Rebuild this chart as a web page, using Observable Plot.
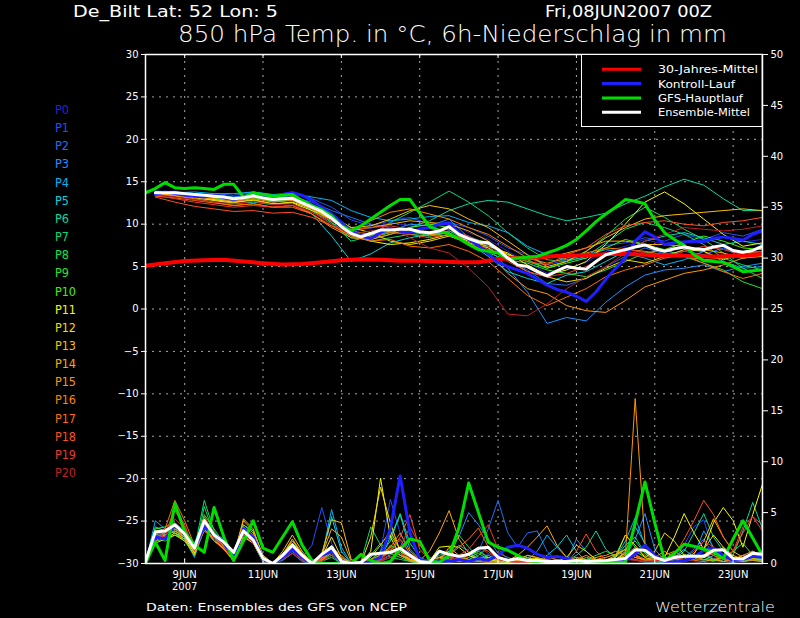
<!DOCTYPE html>
<html><head><meta charset="utf-8">
<script src="https://cdn.jsdelivr.net/npm/d3@7"></script>
<script src="https://cdn.jsdelivr.net/npm/@observablehq/plot@0.6"></script>
<style>
html,body{margin:0;padding:0;background:#000;}
#wrap{position:relative;width:800px;height:618px;overflow:hidden;background:#000;}
#wrap svg{position:absolute;left:0;top:0;}
</style></head><body><div id="wrap"></div>
<script>
// ---------- tick labels / categories ----------
const xTickHours = [24, 72, 120, 168, 216, 264, 312, 360];
const xTickLabels = ["9JUN\n2007", "11JUN", "13JUN", "15JUN", "17JUN", "19JUN", "21JUN", "23JUN"];
const tempTicks = [-30, -25, -20, -15, -10, -5, 0, 5, 10, 15, 20, 25, 30];
const precipTicks = [0, 5, 10, 15, 20, 25, 30, 35, 40, 45, 50];
const memberNames = ["P0","P1","P2","P3","P4","P5","P6","P7","P8","P9","P10","P11","P12","P13","P14","P15","P16","P17","P18","P19","P20"];
const memberColors = ["#2424d8","#2050f8","#2070f0","#1e90ff","#00b4f8","#00d4dc","#00dca0","#00dc78","#10e050","#30e030","#48f000","#f8f800","#f8d800","#f8c000","#ffa800","#ff9800","#ff8400","#ff6c00","#ff5020","#f03830","#c02020"];
const legendNames = ["30-Jahres-Mittel", "Kontroll-Lauf", "GFS-Hauptlauf", "Ensemble-Mittel"];
const legendColors = ["#ff0000", "#2020ff", "#00dd00", "#ffffff"];

// ---------- time axes (hours after 08JUN2007 00Z) ----------
const hours6 = d3.range(6, 379, 6);      // 6 .. 378
const hours0 = d3.range(0, 379, 6);      // 0 .. 378
const hours12 = d3.range(6, 379, 12);    // 6 .. 378 (members temperature)
const climHours = [0,12,24,36,48,60,72,84,96,108,120,132,144,156,168,180,192,204,216,228,240,252,264,276,288,300,312,324,336,348,360,372,378];

// ---------- 850 hPa temperature ----------
const climTemp = [5.1,5.4,5.65,5.75,5.8,5.6,5.4,5.25,5.3,5.5,5.75,5.85,5.8,5.7,5.7,5.6,5.5,5.5,5.9,6.0,6.1,6.25,6.3,6.4,6.5,6.45,6.35,6.3,6.25,6.2,6.25,6.35,6.5];
const gfsTemp = [13.7,14.2,14.9,14.3,14.2,14.3,14.2,14.1,14.7,14.7,13.2,13.7,13.5,13.3,13.4,13.5,12.8,12.2,11.7,11.0,9.8,9.2,9.8,10.6,11.4,12.2,12.9,12.9,11.3,9.7,9.3,8.8,8.3,7.6,7.0,6.8,6.6,5.9,6.0,6.1,6.2,6.6,7.0,7.5,8.2,9.2,10.3,11.2,12.0,12.9,12.7,12.4,10.5,9.0,8.2,7.5,6.4,5.7,5.6,5.5,5.0,4.4,4.5,4.6];
const meanTemp = [13.7,13.7,13.7,13.6,13.5,13.4,13.3,13.2,13.0,13.1,13.35,13.1,12.9,13.0,13.05,12.5,12.0,11.5,10.7,9.7,8.9,8.5,8.9,9.3,9.3,9.4,9.4,9.1,9.0,9.2,9.7,8.8,8.3,7.9,7.8,7.0,6.0,5.2,5.0,4.4,3.9,4.5,5.0,4.8,4.7,5.6,6.4,6.7,7.0,7.3,7.55,7.1,6.8,7.1,7.3,7.1,7.0,7.3,7.5,6.9,6.7,6.9,7.4];
const ctrlTemp = [13.5,13.8,13.6,13.4,13.3,13.2,13.4,13.1,12.9,13.2,13.4,13.2,13.2,13.5,13.7,13.4,12.8,12.0,11.2,10.2,9.2,8.6,8.3,9.0,9.5,9.2,9.0,9.4,9.6,10.0,10.1,9.0,8.2,7.5,6.5,5.5,5.0,4.6,4.2,3.5,2.8,2.3,2.0,1.5,0.9,2.0,3.5,4.8,6.0,8.0,9.1,8.5,7.6,7.8,7.9,8.0,8.0,8.3,8.5,8.3,8.1,8.8,9.2];

const tP0 = [13.8,13.9,13.6,13.5,13.2,13.6,13.2,13.5,12.4,11.0,9.2,9.5,10.2,9.8,9.6,10.3,9.0,8.2,6.8,5.5,4.2,4.8,5.5,6.8,7.4,8.2,7.6,8.0,7.8,8.5,7.9,8.2];
const tP1 = [13.6,13.8,13.4,13.6,13.4,13.8,13.4,13.8,13.0,12.0,10.5,9.8,10.4,10.8,10.0,10.2,9.6,8.6,7.2,6.4,5.2,5.8,6.0,7.5,7.8,8.4,8.0,8.8,8.2,9.0,8.6,9.4];
const tP2 = [13.5,13.6,13.3,13.0,12.6,13.0,12.8,13.2,12.6,11.6,10.8,10.0,9.6,9.0,8.8,9.2,8.6,7.6,5.8,4.6,3.0,2.8,3.6,5.0,6.2,7.2,6.5,6.8,6.4,7.2,6.0,6.5];
const tP3 = [13.9,13.8,13.6,13.4,13.2,13.5,13.0,13.4,12.2,10.4,9.0,8.6,9.2,10.0,9.8,10.6,8.4,7.2,4.8,2.0,-1.7,-1.0,-1.4,0.8,2.6,4.0,4.6,4.8,5.2,4.4,5.0,5.4];
const tP4 = [13.6,13.7,13.8,13.6,13.6,13.8,13.5,13.6,13.2,12.8,11.6,10.8,10.4,10.6,10.9,11.0,10.2,9.8,9.0,7.4,6.4,5.8,6.4,7.0,6.6,6.0,5.2,5.8,6.8,5.6,4.8,5.0];
const tP5 = [13.4,13.5,13.2,12.8,12.4,12.6,12.3,12.6,11.2,8.6,5.6,6.5,7.8,8.4,8.8,9.0,7.8,6.2,4.4,3.6,3.0,4.0,4.4,5.6,6.8,8.0,8.6,9.0,8.4,7.6,8.0,7.6];
const tP6 = [13.6,13.5,13.2,13.1,12.8,13.2,12.6,12.9,11.6,10.0,8.4,8.2,8.8,9.6,10.4,11.6,12.4,12.8,12.6,11.8,11.0,10.4,10.8,11.3,12.4,13.3,14.4,15.3,14.6,13.0,11.6,11.6];
const tP7 = [13.5,13.6,13.4,13.2,12.9,13.2,12.8,13.0,12.0,10.2,8.0,8.6,10.2,11.4,12.6,13.9,12.6,11.0,9.0,7.2,5.8,5.6,6.2,7.8,9.4,10.2,9.6,8.8,7.6,6.0,5.2,4.6];
const tP8 = [13.7,13.8,13.5,13.2,13.0,13.5,12.9,13.0,11.8,10.2,8.6,8.0,8.4,8.8,8.6,9.2,8.0,7.6,6.4,5.6,4.8,5.6,6.8,8.6,10.6,12.0,10.8,9.4,8.2,6.6,4.8,3.6];
const tP9 = [13.6,13.5,13.3,13.0,12.8,13.1,12.7,12.8,11.8,10.6,8.8,8.4,9.0,9.2,8.6,9.0,7.6,6.6,5.8,5.4,4.6,4.2,3.8,4.6,5.6,6.6,7.0,6.2,5.4,4.6,3.2,2.4];
const tP10 = [13.4,13.6,13.2,13.0,12.8,13.2,12.8,13.0,12.0,10.6,9.2,8.8,9.0,9.6,10.0,9.6,8.4,7.8,6.4,5.8,4.8,5.4,6.0,7.2,8.2,7.6,7.0,7.8,8.6,8.0,7.2,7.0];
const tP11 = [13.5,13.4,13.2,12.9,12.6,12.8,12.4,12.5,11.6,10.6,9.4,8.0,7.6,7.8,8.2,8.8,8.0,7.4,6.6,5.2,4.0,4.6,5.6,7.6,10.0,12.6,13.8,12.4,10.6,8.8,7.4,7.8];
const tP12 = [13.6,13.4,13.1,12.8,12.5,12.9,12.4,12.6,11.8,10.8,9.6,9.0,8.0,7.6,8.0,8.6,7.8,7.2,5.8,4.4,3.8,3.2,3.6,4.8,5.8,5.4,6.2,7.0,6.8,5.8,6.6,7.2];
const tP13 = [13.8,13.6,13.4,13.3,13.0,13.4,13.0,13.2,12.2,11.0,9.6,9.8,10.6,11.6,12.2,11.8,10.6,9.6,8.0,6.4,5.0,5.6,6.8,8.4,9.6,10.6,11.0,11.2,11.4,11.6,11.8,11.6];
const tP14 = [13.7,13.5,13.3,13.2,13.0,13.3,12.9,13.0,12.2,10.8,9.4,9.6,10.0,10.4,10.2,10.0,9.2,8.0,6.4,5.8,6.0,6.6,7.2,8.0,8.0,7.6,7.6,7.4,7.0,6.6,6.0,6.2];
const tP15 = [13.5,13.3,13.0,12.6,12.2,12.4,12.0,12.2,11.2,9.6,8.4,8.2,8.8,9.4,8.8,8.6,7.8,6.6,4.2,2.4,1.8,0.4,-0.2,-0.4,1.0,2.6,3.4,4.2,4.6,5.2,6.0,6.4];
const tP16 = [13.6,13.4,13.2,13.0,12.7,13.0,12.6,12.8,11.8,10.4,9.2,10.4,11.4,11.8,11.2,10.6,9.6,8.8,7.4,6.0,5.4,6.0,6.6,7.2,7.0,6.8,6.4,6.2,5.8,6.0,6.6,6.8];
const tP17 = [13.3,13.1,12.8,12.5,12.2,12.4,12.0,12.0,11.2,9.8,8.6,8.0,8.2,7.4,7.2,7.6,6.8,5.6,3.6,1.6,0.4,1.4,2.4,3.8,4.6,5.2,6.0,6.4,5.4,4.4,3.6,4.2];
const tP18 = [13.2,12.6,12.1,11.8,11.5,11.6,11.3,11.4,10.8,9.8,8.8,8.6,9.0,8.8,8.4,8.8,8.2,7.0,6.2,5.6,5.2,6.4,7.2,8.8,9.8,10.2,10.4,10.0,9.8,10.2,10.4,10.8];
const tP19 = [13.4,13.0,12.6,12.3,12.0,12.2,12.0,12.2,11.4,10.4,9.4,9.6,9.8,9.4,9.0,9.4,8.6,7.4,5.6,4.4,3.8,4.2,5.0,6.4,7.2,6.6,6.0,6.8,7.4,7.0,6.4,6.8];
const tP20 = [13.5,13.2,12.9,12.6,12.4,12.7,12.3,12.4,11.4,10.0,8.8,9.2,9.6,8.4,7.2,6.6,4.8,2.6,-0.6,-0.8,0.6,2.4,3.8,5.0,6.6,8.0,8.8,9.6,9.4,9.2,9.4,9.8];
const memberTemp = [tP0,tP1,tP2,tP3,tP4,tP5,tP6,tP7,tP8,tP9,tP10,tP11,tP12,tP13,tP14,tP15,tP16,tP17,tP18,tP19,tP20];

// ---------- 6h precipitation (mm), hours 0..378 ----------
const gfsPrec = [0,2.1,0.3,5.9,3.1,1.8,1.1,5.5,2.6,0.3,2.2,4.2,1.5,1.1,2.6,4.1,1.8,0.3,0,0,0,0,0.9,0.3,0,0.2,1.4,2.4,2.2,0.3,0.1,0.8,3.5,7.9,5.0,2.1,1.6,1.3,0.8,0.3,0.1,0.1,0.1,0.1,0.1,0.1,0.1,0.1,0.1,0.1,4.0,8.0,4.0,0.3,1.0,1.9,1.7,1.4,1.1,0.5,2.4,4.2,2.5,0.8];
const meanPrec = [0.2,3.1,3.2,3.8,2.9,1.5,4.2,2.8,2.1,1.1,3.2,2.3,0.5,0,0.8,1.8,0.8,0,0.9,1.6,0.2,0,0.1,0.9,1.0,1.1,1.5,0.8,0.2,0.1,1.2,0.9,0.7,0.9,1.5,1.6,0.6,0.3,0.5,0.3,0.3,0.2,0.2,0.2,0.3,0.2,0.25,0.3,0.4,0.5,1.35,1.3,0.6,0.3,0.6,0.7,0.7,0.7,1.3,1.35,0.5,0.45,1.0,0.9];
const ctrlPrec = [0,2.6,2.4,3.8,3.0,1.5,3.6,2.8,2.0,0.6,3.4,2.6,0.4,0,0.6,1.4,0.6,0,0.8,1.2,0.2,0,0,0.2,0.6,3.4,8.6,3.0,0.4,0.2,0.3,0.2,0.4,0.2,0.5,0.3,0.8,1.6,1.8,1.5,0.9,0.6,0.7,0.5,0.2,0,0.1,0,0.2,0.3,0.9,1.8,0.8,0.2,0.1,0.3,0.6,1.3,1.5,0.8,0.3,0.4,0.7,0.6];

const pP0 = [0,2.8,2.6,3.4,2.8,1.2,3.8,2.6,1.8,0.8,3.0,2.4,0.3,0,0.5,1.2,0.5,0,0.6,1.0,0,0, 0,0.4,0.8,1.6,2.2,0.8,0.1,0,0.6,0.8,0.3,0.2,0.6,0.9,0.2,0,0.3,0.1,0,0,0, 0,0.2,0,0,0,0.3,0.8,1.0,0.2,0,0,0.4,0.6,0.2,0,0.5,0.8,0.2,0.3,0.6,0.4];
const pP1 = [0,3.0,2.8,3.6,3.0,1.6,4.0,2.6,1.6,0.4,3.2,2.2,0.2,0,0.8,1.8,0.6,1.8,5.5,2.0,0.3,0, 0,0.2,1.2,6.3,3.0,0.8,0.2,0,0.4,1.2,0.6,0.8,1.4,0.6,0.2,0.1,0.2,0.5,0.3,0.1,0, 0,0.1,0.2,0,0,0.3,0.6,0.9,0.4,0.2,0.1,0.3,1.8,3.6,4.3,1.2,0.4,0.2,0.8,1.2,0.8];
const pP2 = [0,2.4,2.6,3.2,2.6,1.4,3.6,2.8,2.2,1.0,3.4,2.6,0.6,0,0.4,1.0,0.3,0,0.8,1.4,0.2,0, 0,0,0.3,0.9,1.6,0.6,0.1,0,0.2,0.6,0.4,0.3,1.2,3.4,6.2,3.0,1.6,3.0,3.2,1.2,0.2, 0,0.2,0.1,0,0,0.2,0.5,0.4,0.1,0,0.2,0.4,0.6,1.4,2.4,0.8,0.2,0.1,0.3,0.6,0.4];
const pP3 = [0,2.6,3.0,3.4,2.8,1.0,4.2,3.0,2.4,0.8,3.6,2.8,0.4,0,0.6,1.4,0.4,0,0.4,1.2,0.1,0, 0,0.2,0.6,1.2,0.8,0.4,0,0.1,0.3,1.4,2.6,5.0,3.8,2.4,1.0,0.6,0.2,0.8,0.5,0.2,0.1, 0.2,2.4,1.2,0.3,0,0.1,0.6,2.4,4.9,1.4,0.3,0.1,0.2,0.4,0.9,0.5,0.2,0.3,0.2,0.4,0.3];
const pP4 = [0,4.2,3.4,3.0,2.4,0.6,3.4,2.4,2.0,1.2,3.8,3.2,0.8,0,0.3,1.0,0.2,0,0.6,5.3,1.6,0, 0,0,0.2,0.6,1.0,0.3,0,0,0.2,0.8,1.8,1.2,0.4,0.2,0.6,0.4,0.1,0.3,1.2,2.8,1.6, 0.6,0.3,0.1,0,0,0.6,2.2,4.5,1.8,0.4,0.1,0,0.3,0.8,3.2,1.6,0.4,0.2,0.3,1.0,0.6];
const pP5 = [0,3.6,3.2,3.0,2.6,1.8,3.8,2.2,1.6,0.2,3.4,2.4,0.2,0,0.4,1.6,0.6,0,0.8,4.6,1.2,0, 0,0.1,0.4,2.6,4.8,1.4,0.4,0.1,0.2,0.6,0.3,0.2,0.4,0.8,0.3,0.1,0.2,0.4,0.2,0.8,1.6, 2.8,1.2,0.2,0,0,0.2,1.2,3.6,2.0,0.4,0.2,0.6,1.4,0.6,0.3,0.8,1.6,0.6,0.2,0.4,0.3];
const pP6 = [0,2.8,3.0,3.8,3.2,2.0,4.4,2.6,1.8,0.6,3.0,2.0,0.1,0,0.6,1.8,0.8,0,0.2,0.8,0,0, 0,0.3,0.9,2.2,4.9,2.0,0.6,0.2,0.4,0.6,0.4,0.2,0.3,0.6,0.2,0,0.1,0.3,0.2,0.1,0, 0.2,0.8,1.6,3.2,1.4,0.6,1.8,2.6,1.0,0.3,0.2,0.4,1.2,3.0,4.9,2.6,1.2,0.8,3.2,6.0,3.4];
const pP7 = [0,3.2,2.8,3.4,2.6,1.4,6.2,3.2,1.6,0.2,3.6,2.8,0.5,0,1.0,2.0,0.8,0,0.2,0.6,0,0, 0.2,3.6,1.8,0.6,0.4,0.2,0,0.2,0.8,1.2,0.6,0.4,0.8,1.6,0.6,0.2,0.1,0.2,0.4,0.2,0.1, 0,0.2,0.6,0.4,0.2,0.4,0.6,0.3,0.2,0.1,0.3,0.8,0.6,0.4,0.8,1.4,0.6,0.2,0.4,0.8,0.4];
const pP8 = [0,2.2,2.4,3.0,2.2,0.8,5.6,2.8,1.4,0.3,3.0,2.2,0.3,0,0.7,1.6,0.4,0,0.4,1.0,0.2,0, 0,0.2,0.4,1.8,1.2,0.6,0.2,0,0.3,0.5,2.8,1.6,0.6,0.3,0.2,0.1,0,0.2,0.3,0.4,0.2, 0,0.1,0.4,0.8,1.2,0.8,2.8,1.6,0.6,0.2,0.1,0.2,0.4,0.8,0.6,0.3,0.2,0.4,0.6,0.3,0.2];
const pP9 = [0,2.6,2.2,2.8,2.4,1.2,4.8,3.4,2.0,0.6,2.8,2.0,0.2,0,0.5,1.4,0.6,0,0.3,0.8,0.1,0, 0,0.8,2.0,1.0,0.6,0.2,0.1,0,0.2,0.4,0.3,0.6,1.0,0.4,0.2,0.1,0,0,0.1,0.2,0.1, 0,0,0.2,0.4,0.3,0.6,1.4,2.2,1.0,0.4,0.2,0.1,0.3,0.6,0.4,0.2,0.6,1.2,2.0,0.8,0.3];
const pP10 = [0,3.4,3.6,4.0,3.2,1.6,4.6,2.8,1.8,0.4,3.8,3.0,0.6,0,0.9,2.2,1.0,0,0.5,1.4,0.3,0, 0,0.4,1.2,2.8,1.4,0.4,0.2,0.1,0.6,1.0,0.5,0.8,1.2,0.6,0.3,0.2,0.1,0.3,0.2,0,0, 0.1,0.2,0.1,0,0.2,0.4,0.8,1.2,0.6,0.2,0.3,0.5,0.9,0.6,0.4,0.3,0.6,0.4,0.2,0.5,0.4];
const pP11 = [0,2.4,2.8,3.2,2.6,1.0,3.8,2.4,1.4,0.4,3.2,2.4,0.4,0,0.6,1.4,0.6,0,0.5,1.8,0.4,0, 0,1.2,8.4,2.6,0.8,0.3,0.1,0.2,1.6,1.7,1.6,0.8,0.4,0.2,0.6,0.3,0.2,0.4,0.5,0.2,0.1, 0.2,0.4,0.3,0.1,0,0.4,1.0,0.6,0.4,0.3,0.6,2.6,4.9,3.0,1.4,4.0,5.5,4.2,1.6,4.8,7.8];
const pP12 = [0,2.0,2.4,2.8,2.2,1.2,3.4,2.2,1.6,0.6,2.6,2.0,0.2,0,0.8,2.4,0.8,0,0.6,2.6,0.6,0, 0,2.6,7.5,4.0,1.2,0.4,0.2,0.3,0.6,0.4,0.2,0.3,0.6,0.4,0.2,0.1,0.3,0.6,0.3,0.1,0.2, 0.6,1.8,1.2,0.4,0.2,0.6,2.8,1.8,0.6,1.2,3.0,2.2,0.8,0.6,1.4,2.8,1.6,0.8,0.4,1.2,0.8];
const pP13 = [0,2.6,2.4,3.0,2.4,0.8,3.6,2.6,1.8,0.8,4.2,3.2,0.8,0,1.2,2.8,1.2,0,1.0,4.3,4.0,0.4, 0,0.6,1.8,3.2,1.4,0.6,0.2,0.1,0.4,0.6,0.3,0.2,0.4,0.6,0.3,0.2,0.4,0.8,0.6,0.3,0.2, 0.3,0.6,0.4,0.2,0.3,0.8,1.4,0.8,0.4,0.6,1.2,0.6,0.4,1.0,2.2,4.4,2.6,1.2,0.6,0.8,0.6];
const pP14 = [0,2.8,2.6,3.6,3.0,1.4,4.0,3.0,2.0,0.6,4.4,3.4,0.6,0,0.8,2.0,0.6,0,0.8,3.4,2.6,0.2, 0,0.4,0.8,1.6,1.0,0.4,0.3,1.2,3.0,5.2,2.4,1.0,0.4,0.2,0.1,0.3,0.8,1.6,2.6,3.7,1.8, 0.6,0.3,0.2,0.4,0.6,0.9,1.4,0.8,0.4,0.3,0.6,0.4,0.3,0.6,0.8,0.4,0.2,0.4,0.8,0.5,0.3];
const pP15 = [0,3.0,3.2,3.4,2.8,1.2,3.2,2.4,1.6,0.4,3.0,2.6,0.4,0,0.6,1.8,0.7,0,0.5,1.6,0.8,0, 0,0.2,0.6,1.4,0.8,0.3,0.1,0,0.2,1.6,0.8,0.4,0.2,0.1,0.2,0.4,0.3,0.1,0,0.2,0.4, 0.2,0.1,0.3,0.6,0.8,1.2,0.8,16.2,2.0,0.4,0.4,0.8,0.6,0.3,0.2,0.4,0.6,0.3,0.2,0.3,0.2];
const pP16 = [0,2.2,2.8,3.2,2.6,1.6,3.6,2.6,1.8,0.6,3.4,2.6,0.4,0,0.9,2.4,1.0,0,0.4,1.2,0.3,0, 0,0.3,0.8,1.6,3.0,1.2,0.4,0.2,0.6,1.2,0.6,0.3,0.2,0.4,0.6,0.3,0.2,0.1,0.2,0.6,0.4, 0.2,0.4,0.8,0.3,0.2,0.4,1.2,0.6,0.3,0.4,0.8,1.2,0.6,0.3,0.6,1.0,0.5,0.4,0.8,1.2,0.6];
const pP17 = [0,3.2,3.4,6.2,4.2,1.8,3.4,2.2,1.4,0.2,3.0,2.2,0.3,0,0.6,1.6,0.6,0,0.3,1.0,0.2,0, 0,0.2,0.6,1.2,2.4,1.0,0.3,0.1,0.4,0.8,1.6,2.4,3.5,1.6,0.6,0.2,0.1,0.2,0.3,0.2,0.1, 0,0.1,0.2,0.4,0.2,0.3,0.8,1.6,0.8,0.3,0.2,0.4,0.3,0.6,1.2,0.8,0.4,0.2,0.6,1.0,0.5];
const pP18 = [0,2.4,3.0,5.2,3.6,1.4,4.6,3.0,2.0,0.8,3.6,2.8,0.6,0,0.5,1.2,0.4,0,0.4,1.6,0.4,0, 0,0.2,0.4,1.2,2.6,4.8,1.4,0.4,0.2,0.6,0.4,0.8,1.6,1.2,0.4,0.2,0.1,0.2,0.4,0.3,0.2, 0.1,1.2,2.9,1.2,0.4,0.2,0.4,0.8,0.4,0.2,0.3,0.8,2.4,4.2,6.2,4.8,2.6,1.2,3.0,4.6,3.8];
const pP19 = [0,2.8,2.6,5.6,3.8,1.2,3.8,2.8,2.2,1.0,3.2,2.4,0.5,0,0.7,1.6,0.8,0,0.6,1.4,0.2,0, 0,0.1,0.3,0.8,1.6,3.6,1.8,0.6,0.3,0.6,0.8,1.4,2.6,3.8,1.4,0.4,0.2,0.1,0.3,0.2,0.1, 0,0.2,0.3,0.2,0.1,0.2,0.6,0.4,0.2,0.3,0.5,0.4,0.6,1.2,2.2,1.6,0.8,1.2,3.6,4.6,3.2];
const pP20 = [0,2.6,3.2,4.4,3.4,1.6,4.0,2.4,1.6,0.4,3.0,2.0,0.2,0,0.4,1.0,0.3,0,0.2,0.8,0.1,0, 0,0,0.2,0.6,1.0,0.6,0.2,0.1,0.2,0.4,0.6,1.0,1.6,1.0,0.4,0.2,0.1,0,0.1,0.2,0.1, 0,0.1,0.2,0.1,0,0.2,0.4,0.3,0.2,0.2,0.4,0.6,0.4,0.3,0.8,1.0,0.6,0.4,0.6,0.8,0.5];
const memberPrec = [pP0,pP1,pP2,pP3,pP4,pP5,pP6,pP7,pP8,pP9,pP10,pP11,pP12,pP13,pP14,pP15,pP16,pP17,pP18,pP19,pP20];

// ---------- helpers ----------
// precipitation (0..50 mm, right axis) shares the frame with temperature (-30..30 °C)
const precToT = p => -30 + p * 60 / 50;
const tToPrec = t => Math.round((t + 30) * 50 / 60);
const ser = (hours, vals) => vals.map((v, i) => ({h: hours[i], t: v}));
const serP = (hours, vals) => vals.map((v, i) => ({h: hours[i], t: precToT(v)}));
const FONT = "DejaVu Sans";
const MT = 54, MB = 55, H = 618;
const frameH = H - MT - MB;

const marks = [];
marks.push(Plot.gridY(tempTicks.slice(1, -1), {stroke: "#a8a8a8", strokeOpacity: 1, strokeDasharray: "2,5"}));
marks.push(Plot.gridX(xTickHours, {stroke: "#a8a8a8", strokeOpacity: 1, strokeDasharray: "2,5"}));

// members
memberTemp.forEach((vals, i) => marks.push(Plot.line(ser(hours12, vals), {x: "h", y: "t", stroke: memberColors[i], strokeWidth: 1, clip: true})));
memberPrec.forEach((vals, i) => marks.push(Plot.line(serP(hours0, vals), {x: "h", y: "t", stroke: memberColors[i], strokeWidth: 1, clip: true})));

// climatology, control, GFS, mean
marks.push(Plot.line(ser(climHours, climTemp), {x: "h", y: "t", stroke: legendColors[0], strokeWidth: 4, clip: true}));
marks.push(Plot.line(ser(hours6, ctrlTemp), {x: "h", y: "t", stroke: legendColors[1], strokeWidth: 3, clip: true}));
marks.push(Plot.line(serP(hours0, ctrlPrec), {x: "h", y: "t", stroke: legendColors[1], strokeWidth: 3, clip: true}));
marks.push(Plot.line(ser(hours0, gfsTemp), {x: "h", y: "t", stroke: legendColors[2], strokeWidth: 3, clip: true}));
marks.push(Plot.line(serP(hours0, gfsPrec), {x: "h", y: "t", stroke: legendColors[2], strokeWidth: 3, clip: true}));
marks.push(Plot.line(ser(hours6, meanTemp), {x: "h", y: "t", stroke: legendColors[3], strokeWidth: 3, clip: true}));
marks.push(Plot.line(serP(hours0, meanPrec), {x: "h", y: "t", stroke: legendColors[3], strokeWidth: 3, clip: true}));

// axes & frame
marks.push(Plot.axisY(tempTicks, {anchor: "left", tickSize: 4, tickPadding: 3, label: null, stroke: "white", fill: "white", fontSize: 10}));
marks.push(Plot.axisY(precipTicks.map(precToT), {anchor: "right", tickSize: 5, tickPadding: 3, label: null, tickFormat: tToPrec, stroke: "white", fill: "white", fontSize: 10}));
marks.push(Plot.axisX(xTickHours, {anchor: "bottom", tickSize: 0, tickPadding: 6, label: null, lineHeight: 1.2, tickFormat: d => xTickLabels[xTickHours.indexOf(d)], fill: "white", fontSize: 10}));
// inward date ticks on bottom and top edges of the frame
marks.push(Plot.tickX(xTickHours, {x: d => d, stroke: "white", insetTop: frameH - 4}));
marks.push(Plot.tickX(xTickHours, {x: d => d, stroke: "white", insetBottom: frameH - 4}));
marks.push(Plot.frame({stroke: "white", strokeWidth: 1.5}));

const chart = Plot.plot({
  width: 800, height: H,
  marginLeft: 145, marginRight: 38, marginTop: MT, marginBottom: MB,
  x: {domain: [0, 378]},
  y: {domain: [-30, 30]},
  style: {background: "black", color: "white", fontFamily: FONT, fontSize: "10px", overflow: "visible"},
  marks
});
const wrap = document.getElementById("wrap");
wrap.appendChild(chart);

// ---------- overlay: titles, legend box, member labels ----------
const ov = d3.select(wrap).append("svg").attr("width", 800).attr("height", H)
  .style("font-family", FONT);
function txt(s, x, y, size, fill, len, weight) {
  const t = ov.append("text").attr("x", x).attr("y", y).attr("font-size", size).attr("fill", fill).text(s);
  if (len) t.attr("textLength", len).attr("lengthAdjust", "spacingAndGlyphs");
  if (weight) t.attr("font-weight", weight);
  return t;
}
txt("De_Bilt  Lat: 52 Lon: 5", 73, 17, 15, "white", 205);
txt("Fri,08JUN2007 00Z", 545, 17, 15, "white", 167);
txt("850 hPa Temp. in °C, 6h-Niederschlag in mm", 178, 42, 23, "white", 549, 300);
txt("Daten: Ensembles des GFS von NCEP", 146, 611, 11, "white", 261);
txt("Wetterzentrale", 655, 612, 14, "white", 120, 300);

// legend
ov.append("rect").attr("x", 581.5).attr("y", MT + 0.5).attr("width", 180.5).attr("height", 72)
  .attr("fill", "black").attr("stroke", "white").attr("stroke-width", 1);
const legW = [100, 77, 85, 92];
legendNames.forEach((n, i) => {
  const y = 69.3 + i * 14.3;
  ov.append("line").attr("x1", 602).attr("x2", 641).attr("y1", y).attr("y2", y)
    .attr("stroke", legendColors[i]).attr("stroke-width", 3);
  txt(n, 658, y + 4, 11, "white", legW[i]);
});

// member labels
memberNames.forEach((n, i) => {
  txt(n, 55, 114 + i * 18.15, 12, memberColors[i], n.length === 2 ? 14 : 21);
});
</script></body></html>
